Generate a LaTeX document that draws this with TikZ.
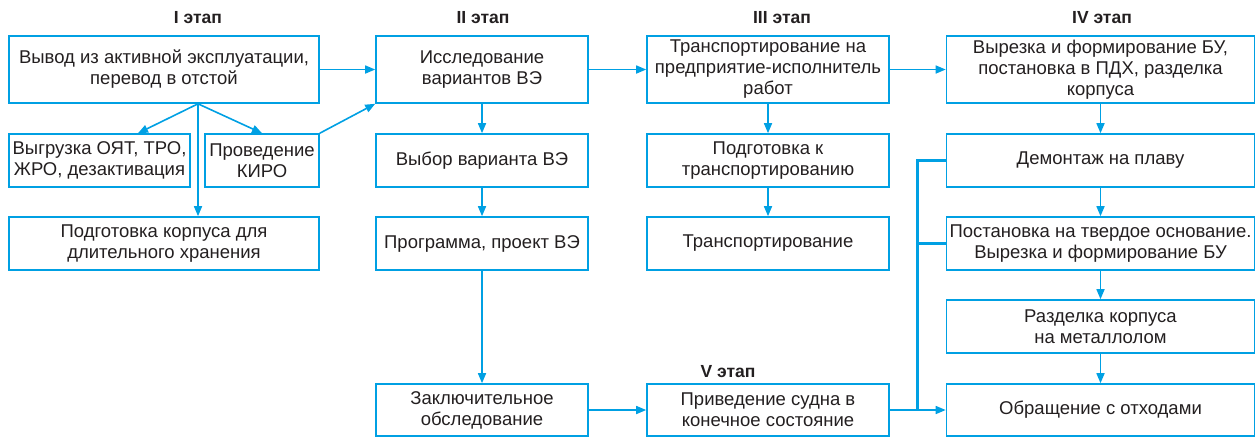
\documentclass[tikz,border=0pt]{standalone}
\usepackage{fontspec}
\setmainfont{Liberation Sans}
\usetikzlibrary{arrows.meta,calc}
\definecolor{lb}{RGB}{0,160,227}
\definecolor{tx}{RGB}{35,31,32}
\begin{document}
\begin{tikzpicture}[x=1pt,y=-1pt,
 box/.style={draw=lb,line width=1.6pt,align=center,inner sep=1pt,font=\fontsize{18.5}{21}\selectfont,text=tx},
 arr/.style={draw=lb,line width=1.6pt,-{Triangle[length=10pt,width=8pt]}},
 ttl/.style={font=\bfseries\fontsize{17.5}{20}\selectfont,text=tx},
 fb/.style={draw=lb,line width=3pt}]
\useasboundingbox (0,0) rectangle (1256,437);
% titles
\node[ttl] (t1) at (198,18) {I этап};
\node[ttl] (t2) at (483,18) {II этап};
\node[ttl] (t3) at (782,18) {III этап};
\node[ttl] (t4) at (1102,18) {IV этап};
\node[ttl] (t5) at (728,372) {V этап};
% column I
\node[box,minimum width=310pt,minimum height=67pt] (a1) at (164,69.5) {Вывод из активной эксплуатации,\\перевод в отстой};
\node[box,minimum width=181pt,minimum height=53pt] (a2) at (99.5,160.5) {Выгрузка ОЯТ, ТРО,\\ЖРО, дезактивация};
\node[box,minimum width=114pt,minimum height=53pt] (a3) at (262,160.5) {Проведение\\КИРО};
\node[box,minimum width=310pt,minimum height=53pt] (a4) at (164,243.5) {Подготовка корпуса для\\длительного хранения};
% column II
\node[box,minimum width=212pt,minimum height=67pt] (b1) at (482,69.5) {Исследование\\вариантов ВЭ};
\node[box,minimum width=212pt,minimum height=53pt] (b2) at (482,160.5) {Выбор варианта ВЭ};
\node[box,minimum width=212pt,minimum height=53pt] (b3) at (482,243.5) {Программа, проект ВЭ};
\node[box,minimum width=212pt,minimum height=52pt] (b4) at (482,410) {Заключительное\\обследование};
% column III
\node[box,minimum width=242pt,minimum height=67pt] (c1) at (768,69.5) {Транспортирование на\\предприятие-исполнитель\\работ};
\node[box,minimum width=242pt,minimum height=53pt] (c2) at (768,160.5) {Подготовка к\\транспортированию};
\node[box,minimum width=242pt,minimum height=53pt] (c3) at (768,243.5) {Транспортирование};
\node[box,minimum width=242pt,minimum height=52pt] (c4) at (768,410) {Приведение судна в\\конечное состояние};
% column IV
\node[box,minimum width=308pt,minimum height=67pt] (d1) at (1100.5,69.5) {Вырезка и формирование БУ,\\постановка в ПДХ, разделка\\корпуса};
\node[box,minimum width=308pt,minimum height=53pt] (d2) at (1100.5,160.5) {Демонтаж на плаву};
\node[box,minimum width=308pt,minimum height=53pt] (d3) at (1100.5,243.5) {Постановка на твердое основание.\\Вырезка и формирование БУ};
\node[box,minimum width=308pt,minimum height=53pt] (d4) at (1100.5,326.5) {Разделка корпуса\\на металлолом};
\node[box,minimum width=308pt,minimum height=52pt] (d5) at (1100.5,410) {Обращение с отходами};
% connectors column I
\coordinate (s1) at ([xshift=34pt]a1.south);
\draw[arr] (s1) -- ([xshift=38.5pt]a2.north);
\draw[arr] (s1) -- (a3.north);
\draw[arr] (s1) -- (s1 |- a4.north);
\draw[arr] (a3.north east) -- (b1.south west);
\draw[arr] (a1.east) -- (b1.west);
\draw[arr] (b1.east) -- (c1.west);
\draw[arr] (c1.east) -- (d1.west);
% verticals
\draw[arr] (b1) -- (b2);
\draw[arr] (b2) -- (b3);
\draw[arr] (b3) -- (b4);
\draw[arr] (c1) -- (c2);
\draw[arr] (c2) -- (c3);
\draw[arr] (d1) -- (d2);
\draw[arr] (d2) -- (d3);
\draw[arr] (d3) -- (d4);
\draw[arr] (d4) -- (d5);
% bottom
\draw[arr] (b4) -- (c4);
\draw[arr] (c4) -- (d5);
\coordinate (j) at ($(c4.east)!0.5!(d5.west)$);
\draw[fb] (j) -- (j |- d2.west) -- (d2.west);
\draw[fb] (j |- d3.west) -- (d3.west);
\end{tikzpicture}
\end{document}
